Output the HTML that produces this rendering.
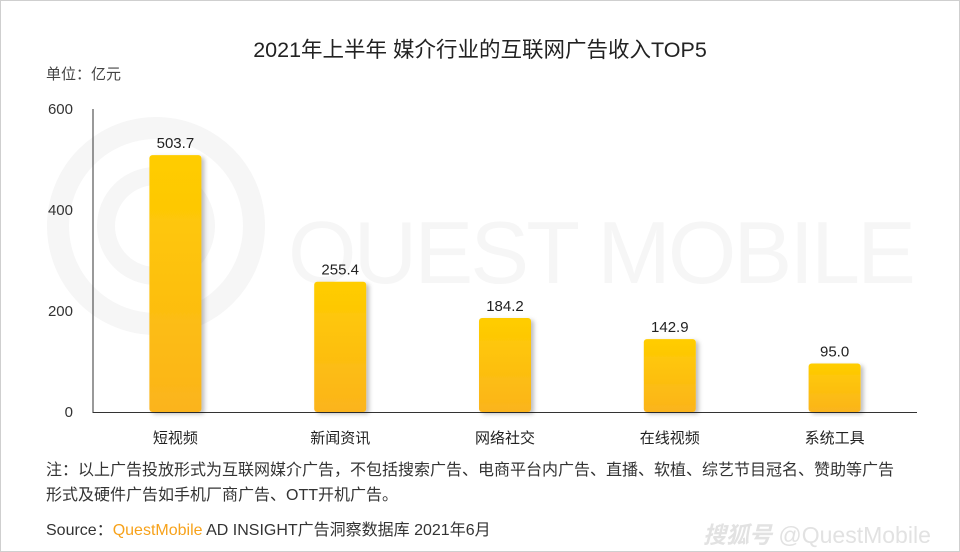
<!DOCTYPE html>
<html><head><meta charset="utf-8">
<style>
body{margin:0;}
#wrap{position:relative;width:958px;height:550px;border:1px solid #cfcfcf;background:#fff;overflow:hidden;font-family:"Liberation Sans","Noto Sans CJK SC",sans-serif;color:#333;}
.t{position:absolute;white-space:nowrap;}
</style></head><body>
<div id="wrap">
<svg width="958" height="550" style="position:absolute;left:0;top:0">
<circle cx="155" cy="225" r="98" fill="none" stroke="#f6f6f6" stroke-width="22"/>
<circle cx="155" cy="225" r="50" fill="none" stroke="#f6f6f6" stroke-width="18"/>
<text x="287" y="282" font-size="88" fill="#f6f6f6" font-family="Liberation Sans, sans-serif" textLength="628">QUEST MOBILE</text>
</svg>
<div class="t" style="left:0;width:958px;text-align:center;top:32px;font-size:21.5px;color:#222;">2021年上半年 媒介行业的互联网广告收入TOP5</div>
<div class="t" style="left:45px;top:62px;font-size:15px;color:#444;">单位：亿元</div>
<svg id="chart" width="958" height="450" style="position:absolute;left:0;top:0">
<defs>
<linearGradient id="g" x1="0" y1="0" x2="0" y2="1"><stop offset="0" stop-color="#ffcd00"/><stop offset="1" stop-color="#fbb41c"/></linearGradient>
<filter id="sh" x="-20%" y="-10%" width="150%" height="120%"><feDropShadow dx="3" dy="2" stdDeviation="2" flood-color="#000" flood-opacity="0.25"/></filter>
</defs>
</svg>
<div class="t" style="left:45px;top:457px;font-size:16px;line-height:25px;color:#333;">注：以上广告投放形式为互联网媒介广告，不包括搜索广告、电商平台内广告、直播、软植、综艺节目冠名、赞助等广告<br>形式及硬件广告如手机厂商广告、OTT开机广告。</div>
<div class="t" style="left:45px;top:515px;font-size:16px;color:#333;">Source：<span style="color:#f7a21b">QuestMobile</span> AD INSIGHT广告洞察数据库 2021年6月</div>
<div class="t" style="left:702px;top:515px;font-size:23px;color:#e2e2e2;font-style:italic;font-weight:bold;">搜狐号 <span style="font-weight:normal;font-style:normal">@QuestMobile</span></div>
</div>
<script>
const categories=["短视频","新闻资讯","网络社交","在线视频","系统工具"];
const values=[503.7,255.4,184.2,142.9,95.0];
const labels=["503.7","255.4","184.2","142.9","95.0"];
const ticks=[0,200,400,600];
const svg=document.getElementById('chart');
const NS='http://www.w3.org/2000/svg';
const x0=92,x1=916,yb=411,yt=105,max=600;
const y=v=>yb-(v/max)*(yb-yt);
const band=(x1-x0)/categories.length;
const xc=i=>x0+band*(i+0.5);
function mk(t,a){const e=document.createElementNS(NS,t);for(const k in a)e.setAttribute(k,a[k]);svg.appendChild(e);return e;}
let ax=mk('line',{x1:x0,y1:108,x2:x0,y2:yb+1,stroke:'#333','stroke-width':1});


let bx=mk('line',{x1:x0,y1:yb+0.5,x2:x1,y2:yb+0.5,stroke:'#333','stroke-width':1});


ticks.forEach(t=>{
 const e=mk('text',{x:72,y:yb-(t/max)*(yb-108)+5,'text-anchor':'end','font-size':15,fill:'#333'});
 e.textContent=t;
 
 
});
categories.forEach((c,i)=>{
 const w=52;
 const r=mk('rect',{x:xc(i)-w/2,y:y(values[i]),width:w,height:yb-y(values[i]),fill:'url(#g)',rx:3,filter:'url(#sh)'});
 
 
 const v=mk('text',{x:xc(i),y:y(values[i])-7,'text-anchor':'middle','font-size':15,fill:'#222'});
 v.textContent=labels[i];
 
 
 const l=mk('text',{x:xc(i),y:442,'text-anchor':'middle','font-size':15,fill:'#222'});
 l.textContent=c;
 
 
});
</script>
</body></html>
